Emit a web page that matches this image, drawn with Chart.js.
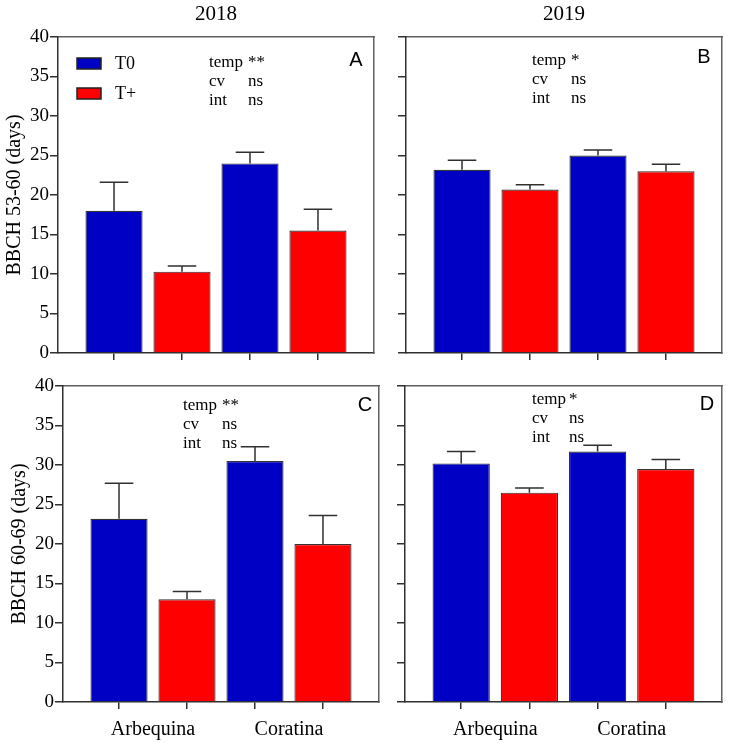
<!DOCTYPE html>
<html>
<head>
<meta charset="utf-8">
<script src="https://cdn.jsdelivr.net/npm/chart.js@4.4.1/dist/chart.umd.min.js"></script>
<style>
  html, body { margin: 0; padding: 0; background: #fff; }
  #wrap { position: relative; width: 730px; height: 743px; overflow: hidden; }
  canvas { position: absolute; }
</style>
</head>
<body>
<div id="wrap">
  <canvas id="cA" width="380" height="370" style="left:0;top:0"></canvas>
  <canvas id="cB" width="350" height="370" style="left:380px;top:0"></canvas>
  <canvas id="cC" width="380" height="383" style="left:5px;top:360px"></canvas>
  <canvas id="cD" width="350" height="383" style="left:380px;top:360px"></canvas>
</div>
<script>
const cultivars = ["Arbequina", "Coratina"];
const treatments = ["T0", "T+"];
const years = ["2018", "2019"];
const stages = ["BBCH 53-60 (days)", "BBCH 60-69 (days)"];

// A: 2018, BBCH 53-60
const a_T0 = [18.0, 24.0];
const a_Tp = [10.3, 15.5];
const a_T0_err = [3.6, 1.4];
const a_Tp_err = [0.7, 2.7];
// B: 2019, BBCH 53-60
const b_T0 = [23.2, 25.0];
const b_Tp = [20.7, 23.0];
const b_T0_err = [1.2, 0.7];
const b_Tp_err = [0.6, 0.9];
// C: 2018, BBCH 60-69
const c_T0 = [23.2, 30.5];
const c_Tp = [13.0, 20.0];
const c_T0_err = [4.5, 1.8];
const c_Tp_err = [1.0, 3.6];
// D: 2019, BBCH 60-69
const d_T0 = [30.2, 31.7];
const d_Tp = [26.5, 29.5];
const d_T0_err = [1.5, 0.8];
const d_Tp_err = [0.6, 1.2];

const sigA = [["temp", "**"], ["cv", "ns"], ["int", "ns"]];
const sigB = [["temp", "*"], ["cv", "ns"], ["int", "ns"]];
const sigC = [["temp", "**"], ["cv", "ns"], ["int", "ns"]];
const sigD = [["temp", "*"], ["cv", "ns"], ["int", "ns"]];

const fills = ["#0000c4", "#ff0000"];
const serif = '"Liberation Serif", "Times New Roman", serif';
const sans = '"Liberation Sans", Arial, sans-serif';
const axisColor = "#303030";
const frameColor = "#606060";

// draws the upper error whiskers, stat notes, panel letter and the legend
const decor = {
  id: "decor",
  afterDatasetsDraw(chart, args, o) {
    const { ctx, chartArea: area, scales } = chart;
    ctx.save();
    ctx.strokeStyle = axisColor;
    ctx.lineWidth = 1.5;
    chart.data.datasets.forEach((ds, i) => {
      chart.getDatasetMeta(i).data.forEach((bar, j) => {
        const yTop = scales.y.getPixelForValue(ds.data[j].y + ds.errors[j]);
        const cap = bar.width / 4;
        ctx.beginPath();
        ctx.moveTo(bar.x, bar.y);
        ctx.lineTo(bar.x, yTop);
        ctx.moveTo(bar.x - cap, yTop);
        ctx.lineTo(bar.x + cap, yTop);
        ctx.stroke();
      });
    });

    ctx.fillStyle = "#000";
    ctx.font = "17px " + serif;
    ctx.textAlign = "left";
    ctx.textBaseline = "alphabetic";
    o.notes.forEach((row, r) => {
      const y = area.top + o.noteTop + r * 19;
      ctx.fillText(row[0], area.left + o.noteX[0], y);
      ctx.fillText(row[1], area.left + o.noteX[1], y);
    });

    ctx.font = "20px " + sans;
    ctx.textAlign = "center";
    ctx.textBaseline = "middle";
    ctx.fillText(o.letter, area.left + o.letterAt[0], area.top + o.letterAt[1]);

    if (o.legend) {
      ctx.font = "18px " + serif;
      ctx.textAlign = "left";
      chart.data.datasets.forEach((ds, i) => {
        const x = area.left + 19;
        const y = area.top + 21 + i * 30;
        ctx.fillStyle = ds.backgroundColor;
        ctx.fillRect(x, y, 24, 11);
        ctx.strokeStyle = "#222";
        ctx.lineWidth = 1.5;
        ctx.strokeRect(x, y, 24, 11);
        ctx.fillStyle = "#000";
        ctx.fillText(ds.label, x + 38, y + 6);
      });
    }
    ctx.restore();
  }
};

function makePanel(id, p) {
  const datasets = treatments.map((t, k) => ({
    label: t,
    data: p.values[k].map((v, i) => ({ x: i * 2 + k + 1, y: v })),
    errors: p.errors[k],
    backgroundColor: fills[k],
    borderColor: "#333",
    borderWidth: 1.2,
    grouped: false,
    categoryPercentage: 1,
    barPercentage: 0.84
  }));

  const scales = {
    x: {
      type: "linear", min: 0.176, max: 4.824, offset: false, weight: 0,
      afterBuildTicks: s => { s.ticks = [1, 2, 3, 4].map(v => ({ value: v })); },
      ticks: { display: false },
      grid: { offset: false, drawOnChartArea: false, tickLength: 7, color: axisColor, lineWidth: 1.5 },
      border: { color: axisColor, width: 1.5 },
      afterFit: s => { s.height = 7; }
    },
    xTop: {
      type: "linear", position: "top", display: true,
      ticks: { display: false },
      grid: { drawOnChartArea: false, drawTicks: false },
      border: { color: frameColor, width: 1.5 }
    },
    y: {
      min: 0, max: 40,
      ticks: { stepSize: 5, display: p.yLabels, color: "#000", padding: 1, font: { family: serif, size: 19 } },
      grid: { drawOnChartArea: false, tickLength: 8, color: axisColor, lineWidth: 1.5 },
      border: { color: axisColor, width: 1.5 },
      title: {
        display: !!p.stage, text: p.stage || "", color: "#000",
        font: { family: serif, size: 20 }, padding: { top: 3, bottom: 0 }
      },
      afterFit: s => { s.width = p.yWidth; }
    },
    yRight: {
      type: "linear", position: "right", display: true,
      ticks: { display: false },
      grid: { drawOnChartArea: false, drawTicks: false },
      border: { color: frameColor, width: 1.5 }
    }
  };
  if (p.xLabels) {
    scales.xLab = {
      type: "linear", position: "bottom", min: 0.176, max: 4.824, offset: false, weight: 1,
      afterBuildTicks: s => { s.ticks = [1.5, 3.5].map(v => ({ value: v })); },
      ticks: {
        callback: (v, i) => cultivars[i], color: "#000", padding: 1,
        maxRotation: 0, autoSkip: false, font: { family: serif, size: 20 }
      },
      grid: { display: false },
      border: { display: false },
      afterFit: s => { s.height = 34; }
    };
  }

  return new Chart(document.getElementById(id), {
    type: "bar",
    data: { datasets },
    options: {
      responsive: false,
      animation: false,
      layout: { padding: p.padding },
      scales,
      plugins: {
        legend: { display: false },
        tooltip: { enabled: false },
        title: {
          display: !!p.year, text: p.year || "", fullSize: false, color: "#000",
          font: { family: serif, size: 21, weight: "normal" },
          padding: { top: 2, bottom: 9.8 }
        },
        decor: p.decor
      }
    },
    plugins: [decor]
  });
}

makePanel("cA", {
  values: [a_T0, a_Tp], errors: [a_T0_err, a_Tp_err],
  year: years[0], stage: stages[0], yLabels: true, yWidth: 58, xLabels: false,
  padding: { top: 0, right: 6, bottom: 10, left: 0 },
  decor: { notes: sigA, noteX: [151, 190], noteTop: 30, letter: "A", letterAt: [298, 23], legend: true }
});
makePanel("cB", {
  values: [b_T0, b_Tp], errors: [b_T0_err, b_Tp_err],
  year: years[1], yLabels: false, yWidth: 26, xLabels: false,
  padding: { top: 0, right: 8, bottom: 10, left: 0 },
  decor: { notes: sigB, noteX: [126, 165], noteTop: 28, letter: "B", letterAt: [298, 20] }
});
makePanel("cC", {
  values: [c_T0, c_Tp], errors: [c_T0_err, c_Tp_err],
  stage: stages[1], yLabels: true, yWidth: 58, xLabels: true,
  padding: { top: 26, right: 6, bottom: 0, left: 0 },
  decor: { notes: sigC, noteX: [120, 159], noteTop: 24, letter: "C", letterAt: [302, 19] }
});
makePanel("cD", {
  values: [d_T0, d_Tp], errors: [d_T0_err, d_Tp_err],
  yLabels: false, yWidth: 25, xLabels: true,
  padding: { top: 26, right: 8, bottom: 0, left: 0 },
  decor: { notes: sigD, noteX: [127, 164], noteTop: 18, letter: "D", letterAt: [302, 18] }
});
</script>
</body>
</html>
